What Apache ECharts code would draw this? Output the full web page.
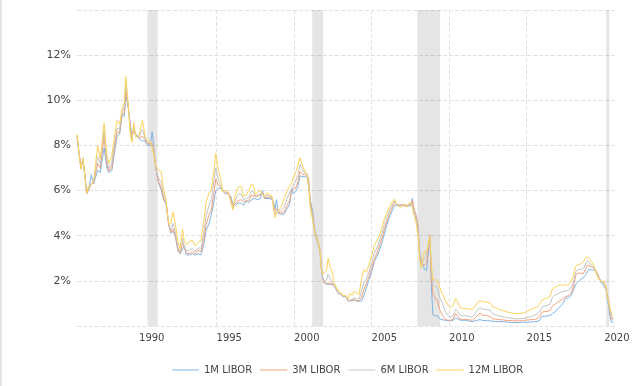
<!DOCTYPE html>
<html>
<head>
<meta charset="utf-8">
<script src="https://cdn.jsdelivr.net/npm/echarts@6/dist/echarts.min.js"></script>
<style>
html,body{margin:0;padding:0;background:#fff;}
#chart{width:642px;height:386px;box-sizing:border-box;border-left:2px solid #e4e4e4;}
</style>
</head>
<body>
<div id="chart"></div>
<script>
// Decimal-year dates of the readings
const dates = [
 1986.00,1986.25,1986.38,1986.50,1986.62,1986.75,1986.92,1987.08,1987.33,1987.50,1987.75,1987.92,1988.05,1988.25,1988.40,1988.58,1988.75,1988.92,1989.05,1989.15,1989.30,1989.45,1989.55,1989.66,1989.80,
 1990.00,1990.22,1990.40,1990.55,1990.72,1990.85,1990.95,1991.08,1991.25,1991.42,1991.58,1991.75,1991.92,1992.05,1992.20,1992.35,1992.50,1992.65,1992.80,1992.92,1993.05,1993.25,1993.45,1993.62,1993.80,1994.00,
 1994.17,1994.33,1994.50,1994.67,1994.83,1994.95,1995.10,1995.25,1995.42,1995.58,1995.75,1995.92,1996.05,1996.20,1996.40,1996.58,1996.75,1996.92,1997.08,1997.25,1997.42,1997.50,1997.67,1997.83,1997.96,1998.10,1998.25,1998.42,1998.58,1998.70,1998.78,1998.87,1998.97,
 1999.15,1999.35,1999.55,1999.72,1999.85,1999.95,2000.10,2000.25,2000.38,2000.50,2000.67,2000.83,2000.95,2001.05,2001.20,2001.35,2001.50,2001.67,2001.75,2001.85,2001.95,2002.10,2002.20,2002.33,2002.45,2002.58,2002.70,2002.85,2003.00,2003.15,2003.35,2003.48,2003.60,2003.75,2003.90,
 2004.05,2004.20,2004.35,2004.50,2004.67,2004.83,2005.00,2005.17,2005.33,2005.50,2005.67,2005.83,2006.00,2006.17,2006.33,2006.48,2006.60,2006.75,2006.92,2007.08,2007.25,2007.42,2007.55,2007.63,2007.72,2007.88,2008.00,2008.06,2008.13,2008.22,2008.30,2008.42,2008.55,2008.67,2008.76,2008.85,2008.95,
 2009.10,2009.25,2009.40,2009.55,2009.75,2009.95,2010.10,2010.25,2010.42,2010.55,2010.70,2010.85,2011.00,2011.25,2011.50,2011.67,2011.83,2012.00,2012.15,2012.33,2012.50,2012.67,2012.83,2013.00,2013.25,2013.50,2013.75,2014.00,2014.25,2014.50,2014.75,
 2015.00,2015.25,2015.50,2015.67,2015.83,2016.00,2016.25,2016.50,2016.67,2016.85,2017.00,2017.17,2017.33,2017.50,2017.67,2017.83,2018.00,2018.17,2018.33,2018.50,2018.67,2018.83,2018.92,2019.00,2019.17,2019.33,2019.50,2019.67,2019.83,2020.00,2020.12,2020.20,2020.28,2020.37,2020.47,2020.60
];
const libor1m = [
 8.35,7.05,7.35,6.75,5.90,6.00,6.70,6.30,6.90,6.80,7.90,7.00,6.80,6.90,7.60,8.40,8.50,9.35,9.30,10.25,9.70,8.90,8.45,8.60,8.50,
 8.30,8.20,8.20,8.00,8.00,8.60,7.95,7.00,6.35,6.05,5.60,5.40,4.50,4.10,4.20,3.95,3.35,3.20,3.40,3.55,3.15,3.15,3.20,3.15,3.20,3.15,
 3.60,4.25,4.50,4.95,5.50,6.00,6.10,6.10,6.00,5.90,5.85,5.75,5.40,5.35,5.45,5.45,5.35,5.55,5.45,5.60,5.65,5.65,5.60,5.65,6.00,5.65,5.65,5.65,5.60,5.40,5.20,5.60,5.00,
 4.95,4.95,5.20,5.40,6.10,5.85,5.95,6.15,6.65,6.65,6.60,6.65,6.70,5.60,5.05,4.20,3.85,3.40,2.75,2.15,1.90,1.85,1.85,1.85,1.85,1.80,1.80,1.45,1.40,1.30,1.30,1.12,1.10,1.12,1.15,
 1.10,1.10,1.10,1.35,1.70,2.05,2.40,2.85,3.05,3.35,3.70,4.10,4.50,4.85,5.10,5.35,5.35,5.32,5.35,5.32,5.32,5.32,5.35,5.65,5.15,4.75,4.40,3.60,3.10,2.90,2.75,2.50,2.47,2.50,3.95,1.90,0.50,
 0.45,0.45,0.32,0.28,0.25,0.23,0.23,0.25,0.35,0.32,0.26,0.25,0.26,0.23,0.19,0.23,0.26,0.28,0.25,0.24,0.24,0.22,0.21,0.20,0.20,0.19,0.17,0.16,0.15,0.16,0.16,
 0.17,0.18,0.19,0.20,0.24,0.43,0.44,0.47,0.55,0.63,0.77,0.86,1.00,1.22,1.24,1.32,1.56,1.85,1.95,2.08,2.15,2.30,2.40,2.50,2.49,2.48,2.40,2.15,1.90,1.76,1.62,1.20,0.95,0.45,0.18,0.16
];
const libor3m = [
 8.40,7.00,7.40,6.70,5.85,6.05,6.30,6.35,7.20,7.00,8.40,7.20,6.85,7.05,7.80,8.55,8.60,9.40,9.45,10.50,9.75,8.75,8.35,8.70,8.45,
 8.35,8.40,8.25,8.05,8.10,8.10,7.90,7.00,6.40,6.15,5.65,5.40,4.45,4.15,4.30,4.00,3.40,3.20,3.65,3.45,3.25,3.20,3.30,3.20,3.35,3.30,
 3.80,4.50,4.90,5.15,5.90,6.50,6.25,6.15,5.95,5.85,5.90,5.65,5.30,5.40,5.55,5.60,5.50,5.55,5.55,5.80,5.75,5.70,5.75,5.80,5.90,5.65,5.70,5.70,5.65,5.30,5.10,5.20,5.05,
 5.00,5.05,5.35,5.55,6.05,6.05,6.10,6.40,6.85,6.75,6.70,6.75,6.45,5.50,4.90,4.10,3.75,3.35,2.65,2.10,1.90,1.90,1.95,1.90,1.90,1.80,1.80,1.45,1.40,1.30,1.30,1.10,1.12,1.15,1.18,
 1.12,1.12,1.25,1.60,1.90,2.20,2.55,2.95,3.20,3.55,3.90,4.30,4.65,5.00,5.25,5.50,5.40,5.37,5.36,5.36,5.35,5.36,5.40,5.55,5.25,4.90,4.50,3.55,3.00,2.75,2.75,2.70,2.80,2.85,4.05,2.20,1.45,
 1.20,1.15,0.70,0.50,0.30,0.25,0.25,0.30,0.55,0.45,0.30,0.29,0.30,0.28,0.25,0.35,0.48,0.57,0.48,0.47,0.45,0.40,0.31,0.30,0.28,0.27,0.24,0.24,0.23,0.23,0.24,
 0.26,0.28,0.29,0.33,0.40,0.62,0.64,0.68,0.88,0.98,1.05,1.12,1.20,1.30,1.33,1.42,1.69,2.25,2.35,2.33,2.33,2.55,2.70,2.78,2.62,2.58,2.40,2.15,1.95,1.90,1.70,1.40,1.20,0.65,0.32,0.25
];
const libor6m = [
 8.45,6.95,7.40,6.70,5.85,6.10,6.25,6.40,7.50,7.20,8.70,7.40,6.95,7.25,8.00,8.75,8.75,9.50,9.70,10.75,9.80,8.60,8.25,8.85,8.40,
 8.40,8.70,8.30,8.10,8.10,8.00,7.85,7.00,6.55,6.40,5.80,5.45,4.45,4.25,4.55,4.15,3.50,3.25,3.90,3.50,3.35,3.35,3.45,3.30,3.45,3.45,
 4.10,4.90,5.30,5.60,6.40,7.00,6.50,6.25,5.95,5.90,5.90,5.55,5.20,5.55,5.85,5.85,5.60,5.65,5.70,6.00,5.90,5.75,5.80,5.85,5.90,5.65,5.80,5.75,5.70,5.20,4.95,5.10,5.05,
 5.10,5.25,5.65,5.90,6.10,6.25,6.40,6.70,7.15,7.00,6.80,6.75,6.35,5.35,4.80,4.05,3.75,3.30,2.55,2.10,2.00,2.05,2.30,2.10,2.05,1.80,1.75,1.45,1.40,1.30,1.30,1.10,1.18,1.20,1.25,
 1.20,1.20,1.55,1.95,2.10,2.40,2.80,3.20,3.45,3.75,4.10,4.50,4.85,5.15,5.35,5.55,5.40,5.35,5.35,5.40,5.33,5.38,5.40,5.45,5.15,4.75,4.30,3.45,2.90,2.65,2.85,3.00,3.10,3.15,4.00,2.60,1.80,
 1.75,1.70,1.25,1.05,0.65,0.45,0.40,0.45,0.75,0.65,0.48,0.45,0.46,0.43,0.40,0.55,0.72,0.80,0.75,0.73,0.72,0.68,0.53,0.50,0.44,0.41,0.36,0.35,0.32,0.32,0.33,
 0.36,0.41,0.47,0.53,0.62,0.86,0.90,0.95,1.28,1.38,1.42,1.48,1.52,1.55,1.57,1.65,1.90,2.40,2.50,2.50,2.55,2.80,2.90,2.90,2.70,2.62,2.35,2.10,1.95,1.91,1.70,1.35,1.15,0.75,0.42,0.31
];
const libor12m = [
 8.50,6.95,7.45,6.75,5.90,6.20,6.25,6.45,8.00,7.40,9.00,7.60,7.20,7.55,8.30,9.10,8.95,9.70,9.90,11.05,9.85,8.40,8.15,9.00,8.35,
 8.45,9.10,8.40,8.20,8.20,7.90,7.85,7.10,6.90,6.85,6.10,5.55,4.50,4.55,5.05,4.50,3.75,3.40,4.30,3.75,3.60,3.75,3.80,3.55,3.70,3.80,
 4.60,5.50,5.85,6.05,6.90,7.65,6.95,6.55,5.95,6.00,5.95,5.50,5.15,5.80,6.15,6.20,5.75,5.80,6.00,6.30,6.15,5.80,5.95,6.00,5.85,5.75,5.90,5.80,5.75,5.10,4.80,5.00,5.05,
 5.25,5.60,6.00,6.20,6.35,6.55,6.80,7.10,7.45,7.20,6.90,6.70,6.10,5.20,4.70,4.10,3.90,3.40,2.60,2.30,2.40,2.45,3.00,2.60,2.40,1.90,1.75,1.55,1.50,1.35,1.35,1.20,1.45,1.35,1.55,
 1.45,1.40,2.10,2.50,2.40,2.70,3.10,3.55,3.75,4.00,4.35,4.75,5.05,5.30,5.50,5.62,5.40,5.30,5.25,5.40,5.25,5.45,5.45,5.25,4.95,4.55,3.95,3.40,2.85,2.55,2.95,3.30,3.30,3.25,3.95,2.80,2.05,
 2.05,2.00,1.70,1.45,1.15,0.90,0.80,0.90,1.22,1.05,0.82,0.78,0.78,0.76,0.73,0.87,1.05,1.12,1.08,1.06,1.05,1.00,0.85,0.82,0.72,0.68,0.62,0.58,0.55,0.55,0.58,
 0.63,0.72,0.80,0.85,0.95,1.16,1.22,1.30,1.65,1.72,1.78,1.82,1.82,1.80,1.82,1.95,2.20,2.65,2.72,2.76,2.85,3.05,3.12,3.02,2.85,2.70,2.30,2.05,1.98,1.99,1.72,1.35,1.05,0.80,0.55,0.45
];
const seriesNames = ['1M LIBOR', '3M LIBOR', '6M LIBOR', '12M LIBOR'];
const seriesColors = ['#80b4e4', '#f4a27c', '#c4c4c4', '#fcd35a'];
const xTickYears = [1990, 1995, 2000, 2005, 2010, 2015, 2020];
const recessions = [[1990.55, 1991.2], [2001.17, 2001.88], [2007.95, 2009.42], [2020.14, 2020.33]];

const allSeries = [libor1m, libor3m, libor6m, libor12m];
const font = 'DejaVu Sans, Verdana, sans-serif';
const chart = echarts.init(document.getElementById('chart'));
const series = allSeries.map((vals, k) => {
  const s = {
    name: seriesNames[k],
    type: 'line',
    symbol: 'none',
    showSymbol: false,
    animation: false,
    lineStyle: { width: 1, color: seriesColors[k] },
    itemStyle: { color: seriesColors[k] },
    data: dates.map((d, i) => [d, vals[i]])
  };
  if (k === 0) {
    s.markArea = {
      silent: true,
      itemStyle: { color: 'rgba(0,0,0,0.1)' },
      data: recessions.map(r => [{ xAxis: r[0] }, { xAxis: r[1] }])
    };
  }
  return s;
});

chart.setOption({
  animation: false,
  backgroundColor: '#fff',
  grid: { left: 75, right: 25, top: 10, bottom: 60, containLabel: false },
  legend: {
    data: seriesNames,
    icon: 'path://M0,0H27V1H0Z',
    left: 170, top: 365, padding: 0,
    itemWidth: 27, itemHeight: 14, itemGap: 8,
    textStyle: { fontSize: 10, color: '#444', fontFamily: font }
  },
  xAxis: {
    type: 'value',
    min: 1986, max: 2020.83,
    axisLine: { show: false },
    axisTick: { show: false, customValues: xTickYears },
    axisLabel: {
      customValues: xTickYears,
      align: 'left', margin: 7,
      fontSize: 10, color: '#444', fontFamily: font,
      formatter: v => String(v)
    },
    splitLine: { show: true, showMinLine: false, showMaxLine: false,
      lineStyle: { type: 'dashed', color: '#e2e2e2', width: 1 } }
  },
  yAxis: {
    type: 'value',
    min: 0, max: 14, interval: 2,
    axisLine: { show: false },
    axisTick: { show: false },
    axisLabel: {
      margin: 6, fontSize: 11, color: '#444', fontFamily: font,
      formatter: v => (v === 0 || v === 14) ? '' : v + '%'
    },
    splitLine: { show: true, lineStyle: { type: 'dashed', color: '#e2e2e2', width: 1 } }
  },
  series: series
});
</script>
</body>
</html>
